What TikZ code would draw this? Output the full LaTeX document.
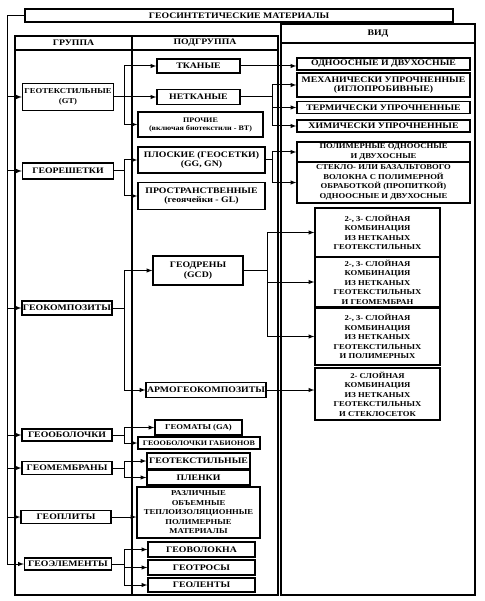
\documentclass[tikz,border=0pt]{standalone}
\usepackage{fontspec}
\setmainfont{Liberation Serif}[FakeStretch=1.15]
\usetikzlibrary{arrows,positioning,calc}

\begin{document}
\begin{tikzpicture}[x=1pt, y=-1pt, >=latex,
    box/.style={draw, line width=1.3pt, inner sep=1pt, align=center, font=\bfseries\fontsize{8.5}{9.5}\selectfont},
    hdr/.style={box, draw=none},
    fsmall/.style={font=\bfseries\fontsize{7.5}{9.5}\selectfont},
    ftiny/.style={font=\bfseries\fontsize{7}{8}\selectfont},
    frame/.style={line width=1.1pt},
    link/.style={line width=1pt},
    arr/.style={->, line width=1pt}]
    \useasboundingbox (0,0) rectangle (484,601);

    % Table frames
    \draw[frame] (15,36) rectangle (278,595);
    \draw[frame] (15,50) -- (278,50);
    \draw[frame] (132,36) -- (132,595);
    \draw[frame] (281,24) rectangle (475,595);
    \draw[frame] (281,43) -- (475,43);

    % Title and headers
    \node[box, minimum width=428, minimum height=13] (ttl) at (239,15.5) {ГЕОСИНТЕТИЧЕСКИЕ МАТЕРИАЛЫ};
    \node[hdr] (hgroup) at (73.5,43) {ГРУППА};
    \node[hdr] (hsub) at (205,43) {ПОДГРУППА};
    \node[hdr] (hkind) at (378,33.5) {ВИД};

    % Groups
    \node[box, fsmall, minimum width=91, minimum height=27] (gt) at (68,97) {ГЕОТЕКСТИЛЬНЫЕ\\(GT)};
    \node[box, minimum width=91, minimum height=16] (grid) at (68,171) {ГЕОРЕШЕТКИ};
    \node[box, minimum width=90, minimum height=14] (comp) at (67,308) {ГЕОКОМПОЗИТЫ};
    \node[box, minimum width=90, minimum height=12] (shell) at (67,435) {ГЕООБОЛОЧКИ};
    \node[box, minimum width=90, minimum height=13] (memb) at (67,468) {ГЕОМЕМБРАНЫ};
    \node[box, minimum width=90, minimum height=13] (plate) at (66,517) {ГЕОПЛИТЫ};
    \node[box, minimum width=87, minimum height=12] (elem) at (68,564) {ГЕОЭЛЕМЕНТЫ};

    % Subgroups
    \node[box, minimum width=83, minimum height=14] (woven) at (198.5,66) {ТКАНЫЕ};
    \node[box, minimum width=83, minimum height=15] (nonwoven) at (198.5,97) {НЕТКАНЫЕ};
    \node[box, ftiny, minimum width=125, minimum height=25] (other) at (200.5,124.5) {ПРОЧИЕ\\(включая биотекстили - BT)};
    \node[box, minimum width=127, minimum height=26] (flat) at (201.5,160) {ПЛОСКИЕ (ГЕОСЕТКИ)\\(GG, GN)};
    \node[box, minimum width=127, minimum height=27] (spatial) at (201.5,196) {ПРОСТРАНСТВЕННЫЕ\\(геоячейки - GL)};
    \node[box, minimum width=90, minimum height=29] (drain) at (198,270.5) {ГЕОДРЕНЫ\\(GCD)};
    \node[box, minimum width=118, minimum height=15] (armo) at (206,390) {АРМОГЕОКОМПОЗИТЫ};
    \node[box, fsmall, minimum width=87, minimum height=15] (mats) at (198.5,427.5) {ГЕОМАТЫ (GA)};
    \node[box, ftiny, minimum width=122, minimum height=12] (gabion) at (199,443) {ГЕООБОЛОЧКИ ГАБИОНОВ};
    \node[box, minimum width=103, minimum height=16] (mgt) at (198.5,461) {ГЕОТЕКСТИЛЬНЫЕ};
    \node[box, minimum width=103, minimum height=15] (film) at (198.5,477.5) {ПЛЕНКИ};
    \node[box, fsmall, minimum width=123, minimum height=51] (foam) at (198.5,512.5) {РАЗЛИЧНЫЕ\\ОБЪЕМНЫЕ\\ТЕПЛОИЗОЛЯЦИОННЫЕ\\ПОЛИМЕРНЫЕ\\МАТЕРИАЛЫ};
    \node[box, minimum width=107, minimum height=15] (fiber) at (201.5,549.5) {ГЕОВОЛОКНА};
    \node[box, minimum width=107, minimum height=15] (rope) at (201.5,567.5) {ГЕОТРОСЫ};
    \node[box, minimum width=107, minimum height=14] (tape) at (201.5,585) {ГЕОЛЕНТЫ};

    % Kinds
    \node[box, minimum width=173, minimum height=12] (v1) at (383.5,64) {ОДНООСНЫЕ И ДВУХОСНЫЕ};
    \node[box, minimum width=173, minimum height=24] (v2) at (383.5,85) {МЕХАНИЧЕСКИ УПРОЧНЕННЫЕ\\(ИГЛОПРОБИВНЫЕ)};
    \node[box, minimum width=173, minimum height=12] (v3) at (383.5,107.5) {ТЕРМИЧЕСКИ УПРОЧНЕННЫЕ};
    \node[box, minimum width=173, minimum height=12] (v4) at (383.5,126) {ХИМИЧЕСКИ УПРОЧНЕННЫЕ};
    \node[box, fsmall, minimum width=173, minimum height=20] (v5) at (383.5,152) {ПОЛИМЕРНЫЕ ОДНООСНЫЕ\\И ДВУХОСНЫЕ};
    \node[box, fsmall, minimum width=173, minimum height=41] (v6) at (383.5,182.5) {СТЕКЛО- ИЛИ БАЗАЛЬТОВОГО\\ВОЛОКНА С ПОЛИМЕРНОЙ\\ОБРАБОТКОЙ (ПРОПИТКОЙ)\\ОДНООСНЫЕ И ДВУХОСНЫЕ};
    \node[box, fsmall, minimum width=125, minimum height=49] (c1) at (377.5,232.5) {2-, 3- СЛОЙНАЯ\\КОМБИНАЦИЯ\\ИЗ НЕТКАНЫХ\\ГЕОТЕКСТИЛЬНЫХ};
    \node[box, fsmall, minimum width=125, minimum height=50] (c2) at (377.5,282) {2-, 3- СЛОЙНАЯ\\КОМБИНАЦИЯ\\ИЗ НЕТКАНЫХ\\ГЕОТЕКСТИЛЬНЫХ\\И ГЕОМЕМБРАН};
    \node[box, fsmall, minimum width=125, minimum height=57] (c3) at (377.5,336.5) {2-, 3- СЛОЙНАЯ\\КОМБИНАЦИЯ\\ИЗ НЕТКАНЫХ\\ГЕОТЕКСТИЛЬНЫХ\\И ПОЛИМЕРНЫХ};
    \node[box, fsmall, minimum width=125, minimum height=52] (c4) at (377.5,394) {2- СЛОЙНАЯ\\КОМБИНАЦИЯ\\ИЗ НЕТКАНЫХ\\ГЕОТЕКСТИЛЬНЫХ\\И СТЕКЛОСЕТОК};

    % Bus lines
    \coordinate (bus) at (7,564);
    \coordinate (s1) at (124,0);
    \coordinate (s2) at (272,0);
    \coordinate (s3) at (267,0);

    % Title to groups
    \draw[arr] (ttl.west) -| (bus) -- (elem);
    \foreach \g in {gt,grid,comp,shell,memb,plate}
        \draw[arr] (bus |- \g) -- (\g);

    % Groups to subgroups
    \draw[arr] (gt) -- (gt -| nonwoven.west);
    \draw[arr] (s1 |- gt) |- (woven);
    \draw[arr] (s1 |- gt) |- (other);
    \draw[link] (grid) -- (s1 |- grid);
    \draw[arr] (s1 |- grid) |- (flat);
    \draw[arr] (s1 |- grid) |- (spatial);
    \draw[arr] (comp) -- (s1 |- comp) |- (drain);
    \draw[arr] (s1 |- comp) |- (armo);
    \draw[link] (shell) -- (s1 |- shell);
    \draw[arr] (s1 |- shell) |- (mats);
    \draw[arr] (s1 |- shell) |- (gabion);
    \draw[link] (memb) -- (s1 |- memb);
    \draw[arr] (s1 |- memb) |- (mgt);
    \draw[arr] (s1 |- memb) |- (film);
    \draw[arr] (plate) -- (plate -| foam.west);
    \draw[link] (elem) -- (s1 |- elem);
    \foreach \e in {fiber,rope,tape}
        \draw[arr] (s1 |- elem) |- (\e);

    % Subgroups to kinds
    \draw[arr] (woven) -- (woven -| v1.west);
    \draw[link] (nonwoven) -- (s2 |- nonwoven);
    \foreach \v in {v2,v3,v4}
        \draw[arr] (s2 |- nonwoven) |- (\v);
    \draw[link] (flat) -- (s2 |- flat);
    \draw[arr] (s2 |- flat) |- (v5);
    \draw[arr] (s2 |- flat) |- (v6);
    \draw[link] (drain) -- (s3 |- drain);
    \foreach \c in {c1,c2,c3}
        \draw[arr] (s3 |- drain) |- (\c);
    \draw[arr] (armo) -- (armo -| c4.west);
\end{tikzpicture}
\end{document}
